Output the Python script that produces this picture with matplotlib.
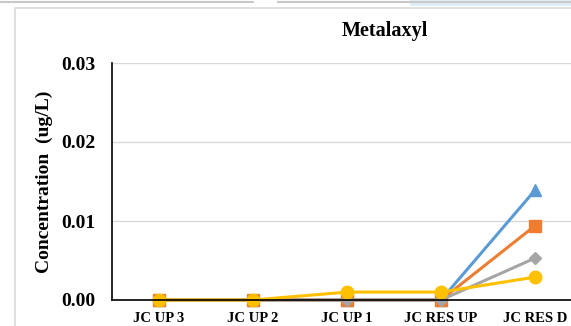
import matplotlib.pyplot as plt
from matplotlib.patches import Rectangle
from matplotlib.lines import Line2D

sites = ['JC UP 3', 'JC UP 2', 'JC UP 1', 'JC RES UP', 'JC RES D']
blue_vals = [0, 0, 0, 0, 0.0139]
orange_vals = [0, 0, 0, 0, 0.0094]
gray_vals = [0, 0, 0, 0, 0.0053]
yellow_vals = [0, 0, 0.001, 0.001, 0.0029]
y_ticks = [0.00, 0.01, 0.02, 0.03]

plt.rcParams['font.family'] = ['Liberation Serif', 'DejaVu Serif']
plt.rcParams['font.weight'] = 'bold'

fig = plt.figure(figsize=(5.71, 3.26), dpi=100)

# chart frame and bits of the window behind it
fig.add_artist(Rectangle((15 / 571, -0.1), 1.0, (326 - 8) / 326 + 0.1,
                         transform=fig.transFigure, fill=False,
                         edgecolor='#d9d9d9', linewidth=1.2))
fig.add_artist(Line2D([0, 253 / 571], [1 - 1.5 / 326] * 2, transform=fig.transFigure,
                      color='#c8c8c8', linewidth=1.5))
fig.add_artist(Line2D([278 / 571, 1], [1 - 1.5 / 326] * 2, transform=fig.transFigure,
                      color='#c8c8c8', linewidth=1.5))
fig.add_artist(Rectangle((410 / 571, 1 - 6 / 326), 161 / 571, 6 / 326,
                         transform=fig.transFigure, facecolor='#deeef8',
                         edgecolor='none'))

ax = fig.add_axes([112 / 571, 1 - 300 / 326, 470 / 571, 237 / 326])
x = range(len(sites))

ax.plot(x, blue_vals, color='#5b9bd5', marker='^', markersize=9, linewidth=2.2, clip_on=False)
ax.plot(x, orange_vals, color='#ed7d31', marker='s', markersize=8, linewidth=2.2, clip_on=False)
ax.plot(x, gray_vals, color='#a5a5a5', marker='D', markersize=6, linewidth=2.2, clip_on=False)
ax.plot(x, yellow_vals, color='#ffc000', marker='o', markersize=9, linewidth=2.2, clip_on=False)

ax.set_xlim(-0.5, len(sites) - 0.5)
ax.set_ylim(0, 0.03)
ax.set_yticks(y_ticks)
ax.set_yticklabels([f'{v:.2f}' for v in y_ticks], fontsize=14, fontweight='bold')
ax.set_xticks(list(x))
ax.set_xticklabels(sites, fontsize=10.5, fontweight='bold')
ax.tick_params(length=0)
ax.tick_params(axis='y', pad=12)
ax.tick_params(axis='x', pad=9)
ax.grid(axis='y', color='#d9d9d9', linewidth=1)
ax.set_axisbelow(True)
for s in ['top', 'right']:
    ax.spines[s].set_visible(False)
for s in ['left', 'bottom']:
    ax.spines[s].set_color('black')
    ax.spines[s].set_linewidth(1.2)

ax.set_ylabel('Concentration  (ug/L)', fontsize=14, fontweight='bold', labelpad=6)
fig.text(385 / 571, 1 - 31 / 326, 'Metalaxyl', ha='center', va='center',
         fontsize=14.5, fontweight='bold')

fig.savefig('out.png', dpi=100)
